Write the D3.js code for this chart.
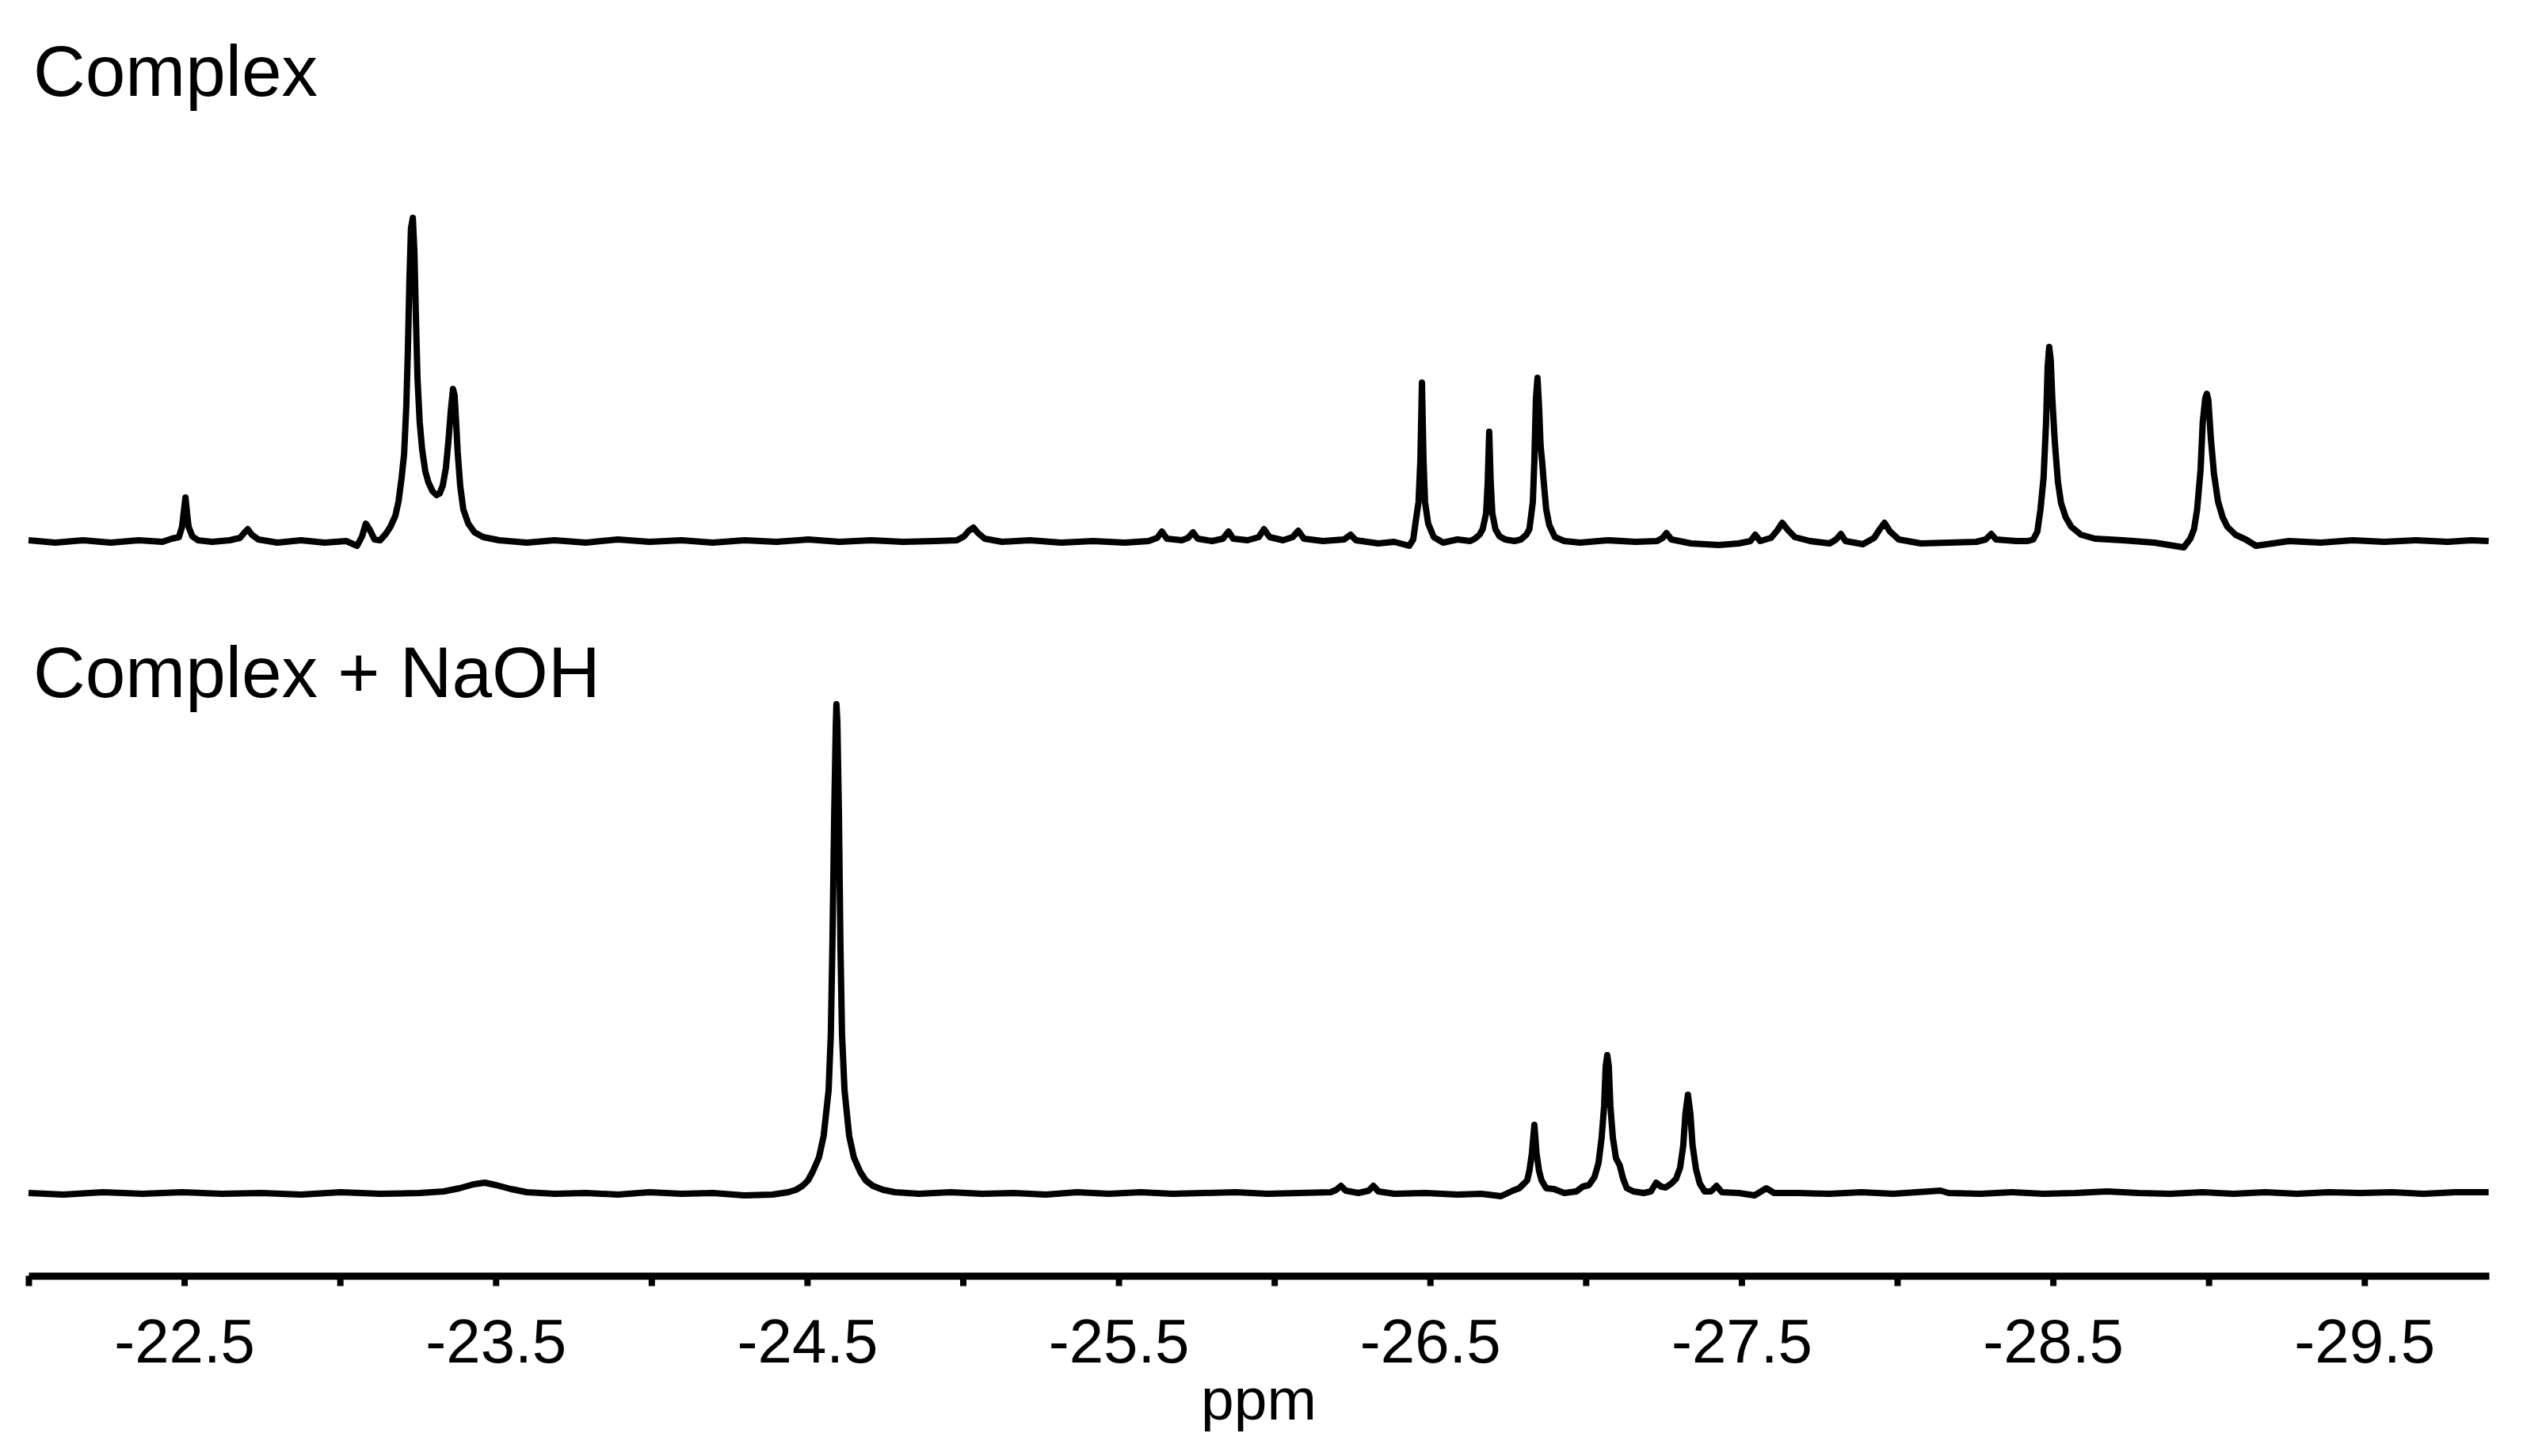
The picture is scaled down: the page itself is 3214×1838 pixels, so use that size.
<!DOCTYPE html>
<html lang="en">
<head>
<meta charset="utf-8">
<title>Spectra</title>
<script src="https://d3js.org/d3.v7.min.js"></script>
<style>
    body
    {
        margin: 0;
        background-color: white;
    }
    svg
    {
        display: block;
        background-color: white;
    }
</style>
</head>
<body>
<div id="chart_div"></div>
<script>
"use strict";

// chemical shift (ppm) and intensity (a.u.)
var topPpm = [-22.000, -22.086, -22.175, -22.264, -22.354, -22.430, -22.460, -22.483, -22.493, -22.498,
    -22.504, -22.509, -22.514, -22.526, -22.544, -22.590, -22.646, -22.679, -22.694, -22.704,
    -22.717, -22.738, -22.799, -22.875, -22.951, -23.020, -23.055, -23.071, -23.083, -23.096,
    -23.111, -23.129, -23.147, -23.162, -23.178, -23.188, -23.198, -23.206, -23.213, -23.218,
    -23.223, -23.228, -23.234, -23.239, -23.244, -23.249, -23.256, -23.264, -23.274, -23.284,
    -23.297, -23.310, -23.320, -23.330, -23.340, -23.348, -23.356, -23.363, -23.368, -23.373,
    -23.378, -23.386, -23.396, -23.412, -23.432, -23.460, -23.511, -23.600, -23.689, -23.790,
    -23.892, -23.994, -24.096, -24.197, -24.299, -24.401, -24.503, -24.604, -24.706, -24.808,
    -24.909, -24.981, -25.004, -25.019, -25.034, -25.049, -25.070, -25.126, -25.215, -25.316,
    -25.418, -25.520, -25.596, -25.624, -25.639, -25.655, -25.703, -25.723, -25.739, -25.754,
    -25.800, -25.835, -25.853, -25.868, -25.914, -25.950, -25.967, -25.985, -26.028, -26.059,
    -26.077, -26.095, -26.156, -26.224, -26.245, -26.262, -26.334, -26.385, -26.433, -26.446,
    -26.453, -26.463, -26.469, -26.474, -26.479, -26.484, -26.494, -26.512, -26.542, -26.588,
    -26.629, -26.644, -26.659, -26.669, -26.680, -26.685, -26.690, -26.695, -26.700, -26.710,
    -26.723, -26.741, -26.771, -26.792, -26.809, -26.819, -26.830, -26.835, -26.840, -26.845,
    -26.850, -26.855, -26.860, -26.865, -26.873, -26.883, -26.901, -26.931, -26.982, -27.071,
    -27.160, -27.229, -27.247, -27.259, -27.275, -27.338, -27.427, -27.491, -27.529, -27.544,
    -27.560, -27.595, -27.616, -27.631, -27.649, -27.671, -27.720, -27.783, -27.804, -27.819,
    -27.834, -27.890, -27.926, -27.944, -27.959, -27.977, -28.005, -28.076, -28.165, -28.254,
    -28.284, -28.302, -28.317, -28.381, -28.419, -28.437, -28.450, -28.460, -28.470, -28.478,
    -28.483, -28.488, -28.493, -28.498, -28.506, -28.516, -28.526, -28.541, -28.559, -28.590,
    -28.635, -28.724, -28.826, -28.920, -28.941, -28.953, -28.963, -28.974, -28.981, -28.989,
    -28.994, -28.999, -29.007, -29.017, -29.030, -29.045, -29.060, -29.086, -29.119, -29.152,
    -29.258, -29.360, -29.462, -29.564, -29.665, -29.767, -29.843, -29.899];
var topIntensity = [1, -2, 1, -2, 1, -1, 3, 5, 18, 35,
    55, 35, 18, 6, 1, -1, 1, 4, 11, 15,
    8, 2, -2, 1, -2, 0, -6, 6, 22, 14,
    2, 1, 9, 18, 32, 50, 80, 110, 170, 240,
    330, 395, 408, 365, 280, 205, 150, 115, 88, 74,
    63, 58, 60, 70, 92, 125, 165, 192, 184, 150,
    112, 70, 40, 22, 11, 5, 1, -2, 1, -2,
    2, -1, 1, -2, 1, -1, 2, -1, 1, -1,
    0, 1, 6, 13, 17, 10, 3, -1, 1, -2,
    0, -2, 0, 4, 12, 3, 1, 4, 11, 3,
    0, 3, 12, 3, 1, 5, 15, 5, 1, 5,
    13, 3, 0, 2, 8, 1, -3, -1, -6, 2,
    22, 49, 102, 200, 102, 49, 22, 5, -2, 2,
    0, 3, 8, 15, 35, 72, 138, 72, 35, 15,
    6, 2, 0, 2, 8, 15, 49, 102, 180, 206,
    170, 120, 100, 75, 40, 20, 5, 0, -2, 1,
    -1, 0, 4, 10, 2, -3, -5, -3, 0, 8,
    0, 4, 14, 23, 14, 5, 0, -3, 2, 9,
    0, -4, 4, 15, 23, 12, 2, -3, -2, -1,
    2, 9, 2, 0, 0, 2, 12, 40, 80, 150,
    220, 245, 228, 180, 125, 75, 48, 30, 18, 8,
    3, 1, -2, -8, 3, 15, 40, 90, 150, 180,
    186, 178, 130, 85, 50, 30, 18, 8, 2, -6,
    0, -2, 1, -1, 1, -1, 1, 0];

var bottomPpm = [-22.000, -22.112, -22.239, -22.366, -22.493, -22.621, -22.748, -22.875, -23.002, -23.129,
    -23.256, -23.333, -23.384, -23.429, -23.465, -23.501, -23.549, -23.600, -23.689, -23.790,
    -23.892, -23.994, -24.096, -24.197, -24.299, -24.388, -24.439, -24.464, -24.485, -24.503,
    -24.518, -24.538, -24.553, -24.569, -24.576, -24.581, -24.587, -24.592, -24.594, -24.597,
    -24.602, -24.607, -24.612, -24.620, -24.635, -24.650, -24.670, -24.688, -24.711, -24.744,
    -24.782, -24.859, -24.960, -25.062, -25.164, -25.266, -25.367, -25.469, -25.571, -25.672,
    -25.774, -25.876, -25.978, -26.079, -26.181, -26.199, -26.214, -26.229, -26.270, -26.303,
    -26.318, -26.334, -26.385, -26.486, -26.588, -26.664, -26.728, -26.766, -26.786, -26.802,
    -26.812, -26.819, -26.827, -26.835, -26.842, -26.850, -26.858, -26.873, -26.898, -26.931,
    -26.970, -26.990, -27.010, -27.028, -27.041, -27.051, -27.059, -27.064, -27.069, -27.074,
    -27.079, -27.087, -27.097, -27.109, -27.120, -27.132, -27.153, -27.186, -27.209, -27.226,
    -27.242, -27.257, -27.275, -27.290, -27.303, -27.313, -27.320, -27.328, -27.336, -27.343,
    -27.354, -27.366, -27.382, -27.402, -27.420, -27.437, -27.491, -27.542, -27.580, -27.605,
    -27.682, -27.783, -27.885, -27.987, -28.063, -28.139, -28.165, -28.267, -28.368, -28.470,
    -28.572, -28.673, -28.775, -28.877, -28.979, -29.080, -29.182, -29.284, -29.386, -29.487,
    -29.589, -29.691, -29.792, -29.899];
var bottomIntensity = [0, -2, 1, -1, 1, -1, 0, -2, 1, -1,
    0, 2, 6, 11, 13, 10, 5, 1, -1, 0,
    -2, 1, -1, 0, -3, -2, 1, 4, 9, 16,
    27, 45, 72, 130, 200, 310, 480, 590, 617, 596,
    480, 310, 200, 130, 72, 45, 27, 16, 9, 4,
    1, -1, 1, -1, 0, -2, 1, -1, 1, -1,
    0, 1, -1, 0, 1, 4, 9, 3, 0, 3,
    9, 2, -1, 0, -2, -1, -4, 3, 6, 12,
    16, 28, 50, 86, 50, 28, 16, 6, 5, 0,
    2, 8, 10, 20, 38, 70, 110, 160, 174, 160,
    110, 70, 44, 35, 18, 6, 2, 0, 2, 13,
    8, 7, 12, 18, 32, 60, 100, 124, 100, 60,
    30, 12, 2, 2, 9, 1, 0, -3, 6, 0,
    0, -1, 1, -1, 1, 3, 0, -1, 1, -1,
    0, 2, 0, -1, 1, -1, 1, -1, 1, 0,
    1, -1, 1, 1];

var spectrumNames = ["Complex", "Complex + NaOH"];
var tickPpm = [-22, -22.5, -23, -23.5, -24, -24.5, -25, -25.5, -26, -26.5,
    -27, -27.5, -28, -28.5, -29, -29.5];
var labelPpm = [-22.5, -23.5, -24.5, -25.5, -26.5, -27.5, -28.5, -29.5];
var axisTitle = "ppm";

var svg_width = 3214;
var svg_height = 1838;
var font = "'Liberation Sans', Arial, Helvetica, sans-serif";

var svg = d3.select("#chart_div")
    .append("svg")
    .attr("width", svg_width)
    .attr("height", svg_height);

var xscale = d3.scaleLinear()
    .domain([-22, -29.9])
    .range([36, 3142]);
// both traces share the same vertical gain, only the baseline moves
var ytop = d3.scaleLinear()
    .domain([0, 400])
    .range([683, 283]);
var ybottom = d3.scaleLinear()
    .domain([0, 400])
    .range([1506, 1106]);

var traces = [
    {name: spectrumNames[0], pts: d3.zip(topPpm, topIntensity), y: ytop, labelY: 121},
    {name: spectrumNames[1], pts: d3.zip(bottomPpm, bottomIntensity), y: ybottom, labelY: 880}
];

traces.forEach(function(t)
{
    var line = d3.line()
        .x(function(d) { return xscale(d[0]); })
        .y(function(d) { return t.y(d[1]); });
    svg.append("path")
        .datum(t.pts)
        .attr("d", line)
        .attr("fill", "none")
        .attr("stroke", "black")
        .attr("stroke-width", 8)
        .attr("stroke-linejoin", "round");
    svg.append("text")
        .attr("x", 42)
        .attr("y", t.labelY)
        .attr("font-family", font)
        .attr("font-size", 91)
        .attr("fill", "black")
        .text(t.name);
});

var xaxis = d3.axisBottom(xscale)
    .tickValues(tickPpm)
    .tickSize(13)
    .tickSizeOuter(0)
    .tickFormat(function(d)
    {
        return labelPpm.indexOf(d) >= 0 ? d.toFixed(1) : "";
    });

var axis_g = svg.append("g")
    .attr("transform", "translate(0,1610.5)")
    .call(xaxis)
    .attr("font-family", font)
    .attr("font-size", 78);
axis_g.select(".domain")
    .attr("stroke", "black")
    .attr("stroke-width", 9);
axis_g.selectAll(".tick line")
    .attr("stroke", "black")
    .attr("stroke-width", 8);
axis_g.selectAll(".tick text")
    .attr("y", 109.5)
    .attr("dy", 0)
    .attr("fill", "black");

svg.append("text")
    .attr("x", (xscale.range()[0] + xscale.range()[1]) / 2)
    .attr("y", 1792)
    .attr("text-anchor", "middle")
    .attr("font-family", font)
    .attr("font-size", 75)
    .attr("fill", "black")
    .text(axisTitle);
</script>
</body>
</html>
